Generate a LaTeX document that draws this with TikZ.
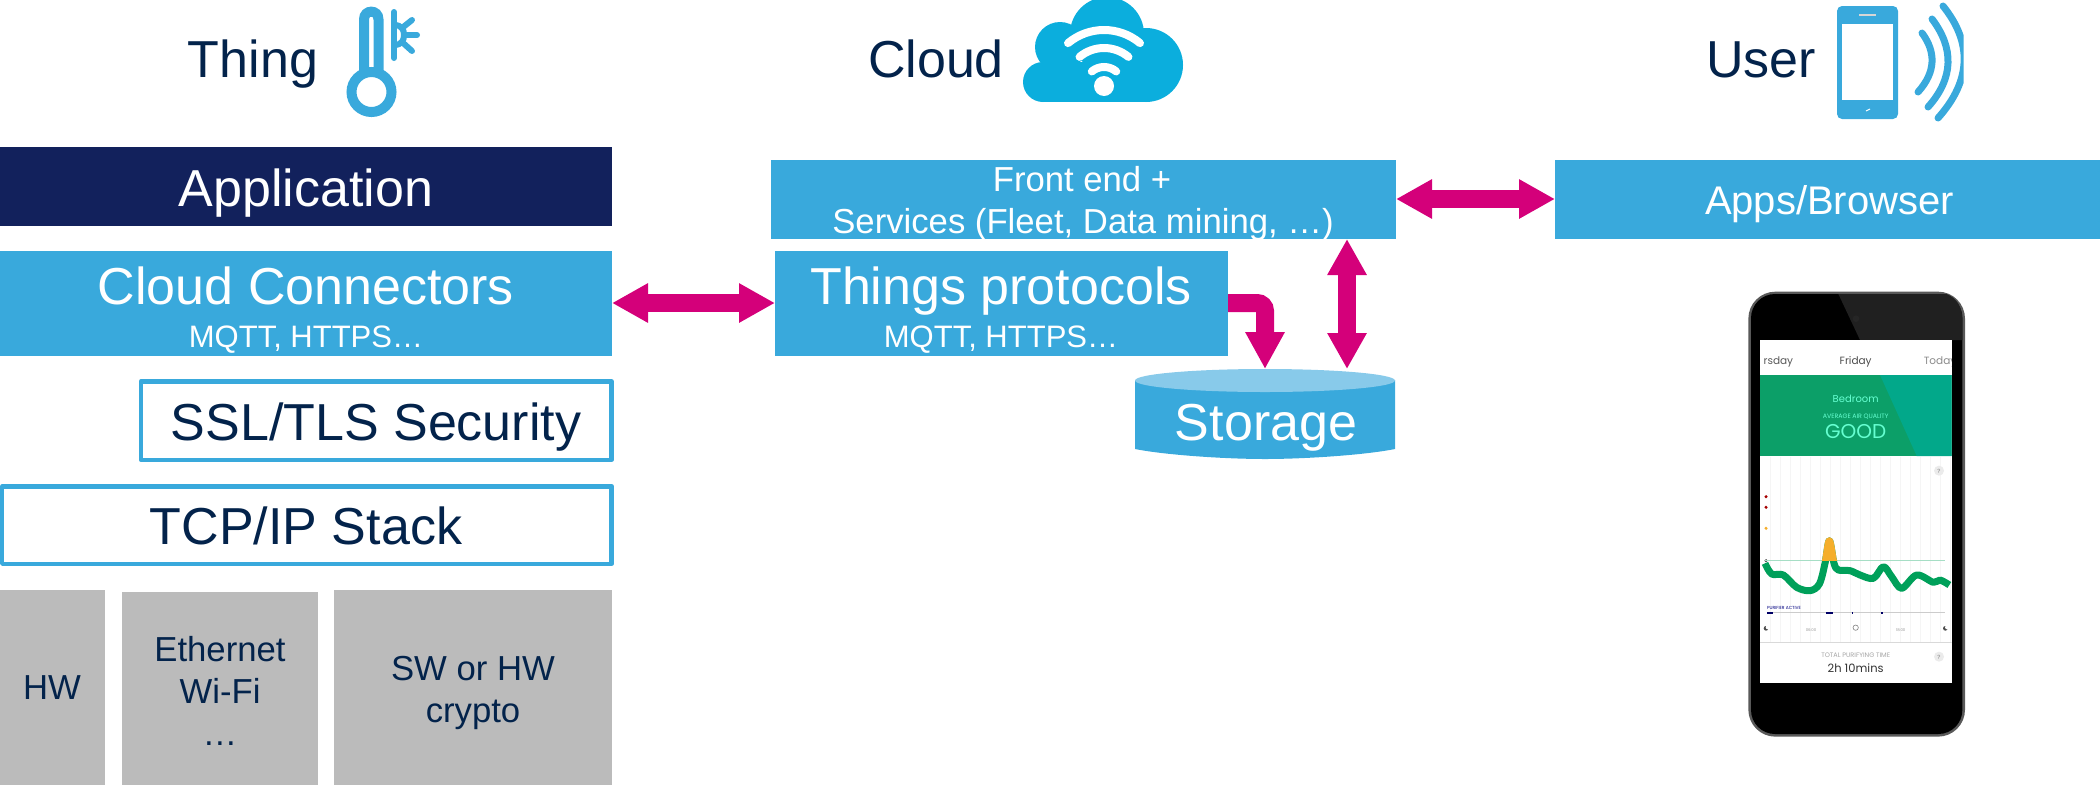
\documentclass[tikz,border=0pt]{standalone}
\usepackage{fontspec}
\setmainfont{Liberation Sans}
\newfontfamily\phonefont{Poppins}
\usetikzlibrary{arrows.meta,calc}
\definecolor{stblue}{HTML}{39A9DC}
\definecolor{stnavy}{HTML}{12215C}
\definecolor{sttext}{HTML}{03234B}
\definecolor{stmag}{HTML}{D4007A}
\definecolor{stgray}{HTML}{BBBBBB}
\definecolor{sttop}{HTML}{88CAEA}
\definecolor{stcloud}{HTML}{0BAEDD}
\definecolor{scrgreen}{HTML}{0C9F68}
\definecolor{scrteal}{HTML}{02A88A}
\definecolor{lnegreen}{HTML}{00A05A}
\definecolor{lneorange}{HTML}{F5AE2B}
\newcommand{\fs}[1]{\fontsize{#1}{#1}\selectfont}
\tikzset{
  box/.style={anchor=north west,inner sep=0pt,outer sep=0pt},
  bluebox/.style={box,fill=stblue},
  linebox/.style={box,draw=stblue,line width=4.5pt,line join=round,fill=white},
  graybox/.style={box,fill=stgray},
  txt/.style={anchor=base,inner sep=0pt,text=sttext},
  wtxt/.style={anchor=base,inner sep=0pt,text=white},
  link/.style={draw=stmag,line width=18pt,{Triangle[length=36pt,width=37pt]}-{Triangle[length=36pt,width=37pt]}},
  linkone/.style={draw=stmag,line width=18pt,-{Triangle[length=37pt,width=37pt]},rounded corners=8pt},
  iconline/.style={draw=stblue,line cap=round},
  scr/.style={inner sep=0pt,anchor=base,font=\phonefont},
}
\begin{document}
\begin{tikzpicture}[x=1pt,y=-1pt]
\useasboundingbox (0,0) rectangle (2100,785);
% headings
\node[txt,font=\fs{52}] (hthing) at (253,77) {Thing};
\node[txt,font=\fs{52}] (hcloud) at (936,77) {Cloud};
\node[txt,font=\fs{52}] (huser) at (1761,77) {User};
% left stack
\node[box,fill=stnavy,minimum width=612pt,minimum height=79pt] (app) at (0,147) {};
\node[wtxt,font=\fs{52}] (appt) at (306,206) {Application};
\node[bluebox,minimum width=612pt,minimum height=105pt] (cc) at (0,251) {};
\node[wtxt,font=\fs{52}] (cct) at (306,304) {Cloud Connectors};
\node[wtxt,font=\fs{31}] (ccs) at (306,347) {MQTT, HTTPS…};
\node[linebox,minimum width=470.5pt,minimum height=78.5pt] (ssl) at (141,381.3) {};
\node[txt,font=\fs{52}] (sslt) at (376,440) {SSL/TLS Security};
\node[linebox,minimum width=609.5pt,minimum height=77.5pt] (tcp) at (2.2,486.3) {};
\node[txt,font=\fs{52}] (tcpt) at (306,544) {TCP/IP Stack};
\node[graybox,minimum width=105pt,minimum height=195pt] (hw) at (0,590) {};
\node[txt,font=\fs{34.7}] (hwt) at (52,699) {HW};
\node[graybox,minimum width=196pt,minimum height=193pt] (eth) at (122,592) {};
\node[txt,font=\fs{34.7}] (etht1) at (220,661) {Ethernet};
\node[txt,font=\fs{34.7}] (etht2) at (220,703) {Wi-Fi};
\node[txt,font=\fs{34.7}] (etht3) at (220,745) {…};
\node[graybox,minimum width=278pt,minimum height=195pt] (sw) at (334,590) {};
\node[txt,font=\fs{34.7}] (swt1) at (473,680) {SW or HW};
\node[txt,font=\fs{34.7}] (swt2) at (473,722) {crypto};
% cloud column
\node[bluebox,minimum width=625pt,minimum height=79pt] (fe) at (771,160) {};
\node[wtxt,font=\fs{34.7}] (fet1) at (1082,191) {Front end +};
\node[wtxt,font=\fs{34.7}] (fet2) at (1083,233) {Services (Fleet, Data mining, …)};
\node[bluebox,minimum width=453pt,minimum height=105pt] (tp) at (775,251) {};
\node[wtxt,font=\fs{52}] (tpt) at (1001,304) {Things protocols};
\node[wtxt,font=\fs{31}] (tps) at (1001,347) {MQTT, HTTPS…};
\node[bluebox,minimum width=545pt,minimum height=79pt] (apps) at (1555,160) {};
\node[wtxt,font=\fs{40}] (appst) at (1829.5,214) {Apps/Browser};
% storage cylinder
\fill[stblue] (1135,380) -- (1135,449) .. controls (1165,455) and (1225,459) .. (1265,459) .. controls (1305,459) and (1365,455) .. (1395,449) -- (1395,380) -- cycle;
\fill[sttop] (1265,380.5) ellipse[x radius=130,y radius=11.5];
\node[inner sep=0pt,minimum width=260pt,minimum height=1pt,anchor=north] (stor) at (1265,369) {};
\node[wtxt,font=\fs{52}] (stort) at (1266,440) {Storage};
% connectors
\draw[link] (cc.east |- 0,303) coordinate (ca) -- (tp.west |- ca);
\draw[link] (fe.east |- 0,199) coordinate (cb) -- (apps.west |- cb);
\coordinate (cv) at (1347,239);
\draw[link] (cv) -- (cv |- stor.north);
\coordinate (cs) at (1228,303);
\draw[linkone] (cs) -| (stor.north);
% thermometer
\begin{scope}
\draw[stblue,line width=10pt] (364,76) -- (364,19.5) .. controls (364,9) and (378.5,9) .. (378.5,19.5) -- (378.5,76);
\draw[stblue,line width=10pt] (371.5,92) circle[radius=20];
\draw[iconline,line width=6pt] (394,12) -- (394,58);
\draw[iconline,line width=6pt] (394,25) .. controls (402,25) and (404,30) .. (404,35) .. controls (404,40) and (402,45) .. (394,45);
\draw[iconline,line width=6pt] (402,28) -- (412,20);
\draw[iconline,line width=6pt] (404,35) -- (417,35);
\draw[iconline,line width=6pt] (402,42) -- (412,51);
\end{scope}
% cloud icon
\begin{scope}
\fill[stcloud] (1107,34) circle[radius=37];
\fill[stcloud] (1060,47) circle[radius=25];
\fill[stcloud] (1043,82) circle[radius=20];
\fill[stcloud] (1146,65) circle[radius=37];
\fill[stcloud] (1043,62) rectangle (1146,102);
\coordinate (wifi) at (1104,86);
\fill[white] (wifi) circle[radius=10];
\foreach \r in {19,38,56}
  \draw[white,line width=8pt,line cap=round] ([shift={(-130:\r)}]wifi) arc[start angle=-130,end angle=-50,radius=\r];
\end{scope}
% phone icon
\fill[stblue,rounded corners=5pt] (1837,6) rectangle (1898,119);
\fill[white] (1842,24) rectangle (1893,100);
\draw[stgray!60,line width=2pt] (1859,15) -- (1876,15);
\draw[white,line width=1pt] (1866,111) -- (1870,109);
\begin{scope}
\clip (1900,0) rectangle (1963.5,125);
\draw[iconline,line width=7pt] (1922,33) .. controls (1936,52) and (1936,72) .. (1918,92);
\draw[iconline,line width=7pt] (1932,19) .. controls (1954,48) and (1954,78) .. (1928,107);
\draw[iconline,line width=7pt] (1943,6) .. controls (1972,42) and (1972,80) .. (1938,118);
\end{scope}
% phone photo
\begin{scope}[shift={(1700,270)},x=0.33333pt,y=-0.33333pt]
\fill[gray!70!black,rounded corners=27pt] (145,65) rectangle (795,1400);
\fill[black,rounded corners=24pt] (153,72) rectangle (787,1392);
\fill[gray!25!black] (415,72) -- (740,72) .. controls (770,85) and (787,110) .. (787,150) -- (787,210) -- (480,210) -- cycle;
\fill[black!70!gray] (468,146) circle[radius=10];
\fill[white] (180,210) rectangle (755,1240);
\begin{scope}
\clip (180,210) rectangle (755,1240);
% header
\node[scr,text=black!65,font=\phonefont\fs{10.5}] (p1) at (235,282) {rsday};
\node[scr,text=black!70,font=\phonefont\fs{10.5}] (p2) at (467,282) {Friday};
\node[scr,text=black!45,font=\phonefont\fs{10.5}] (p3) at (720,282) {Today};
% green panel
\fill[scrgreen] (180,315) rectangle (755,558);
\fill[scrteal] (540,315) -- (755,315) -- (755,558) -- (650,558) -- cycle;
\node[scr,text=green!30!cyan!60!white,font=\phonefont\fs{10}] (p4) at (467,396) {Bedroom};
\node[scr,text=green!30!cyan!60!white,font=\phonefont\fs{6.3}] (p5) at (467,444) {AVERAGE AIR QUALITY};
\node[scr,text=green!30!cyan!60!white,font=\phonefont\fs{20}] (p6) at (467,504) {GOOD};
% stripes
\foreach \x in {210,240,...,750}
  \draw[black!4,line width=.5pt] (\x,560) -- (\x,1115);
% dots
\fill[red!65!black] (198,680) circle[radius=5];
\fill[red!65!black] (198,712) circle[radius=5];
\fill[lneorange] (198,775) circle[radius=5];
\fill[black!70] (198,872) circle[radius=5];
\draw[lnegreen!35,line width=.8pt] (195,872) -- (735,872);
% chart curve
\def\crv{(195,880) (215,912) (250,915) (290,952) (330,962) (358,942) (375,880) (388,812) (402,880) (415,900) (450,902) (480,915) (520,925) (550,890) (575,920) (605,955) (650,915) (700,937) (720,930) (748,945)}
\draw[lnegreen,line width=7pt,line join=round] plot[smooth,tension=.55] coordinates {\crv};
\begin{scope}
\clip (180,700) rectangle (755,872);
\draw[lneorange,line width=7pt,line join=round] plot[smooth,tension=.55] coordinates {\crv};
\end{scope}
% purifier row
\node[scr,text=blue!50!black,font=\phonefont\fs{4.4}] (p7) at (252,1018) {PURIFIER ACTIVE};
\draw[black!20,line width=.6pt] (200,1028) -- (735,1028);
\fill[blue!40!black] (202,1026) rectangle (218,1031);
\fill[blue!40!black] (378,1026) rectangle (400,1031);
\fill[blue!40!black] (455,1026) rectangle (460,1031);
\fill[blue!40!black] (544,1026) rectangle (550,1031);
\fill[black!70] (198,1075) circle[radius=7];
\fill[white] (203,1072) circle[radius=6];
\fill[black!70] (736,1075) circle[radius=7];
\fill[white] (741,1072) circle[radius=6];
\draw[black!50,line width=.6pt] (467,1073) circle[radius=8];
\node[scr,text=black!40,font=\phonefont\fs{3.8}] (p8) at (333,1083) {06:00};
\node[scr,text=black!40,font=\phonefont\fs{3.8}] (p9) at (602,1083) {18:00};
% footer
\fill[black!15] (180,1115) rectangle (755,1119);
\node[scr,text=black!35,font=\phonefont\fs{6.5}] (p10) at (467,1163) {TOTAL PURIFYING TIME};
\node[scr,text=black!80,font=\phonefont\fs{11.5}] (p11) at (467,1208) {2h 10mins};
\fill[black!8] (717,602) circle[radius=15];
\node[scr,text=black!45,font=\phonefont\fs{6}] (p12) at (717,609) {?};
\fill[black!8] (717,1160) circle[radius=15];
\node[scr,text=black!45,font=\phonefont\fs{6}] (p13) at (717,1167) {?};
\end{scope}
\end{scope}
\end{tikzpicture}
\end{document}
